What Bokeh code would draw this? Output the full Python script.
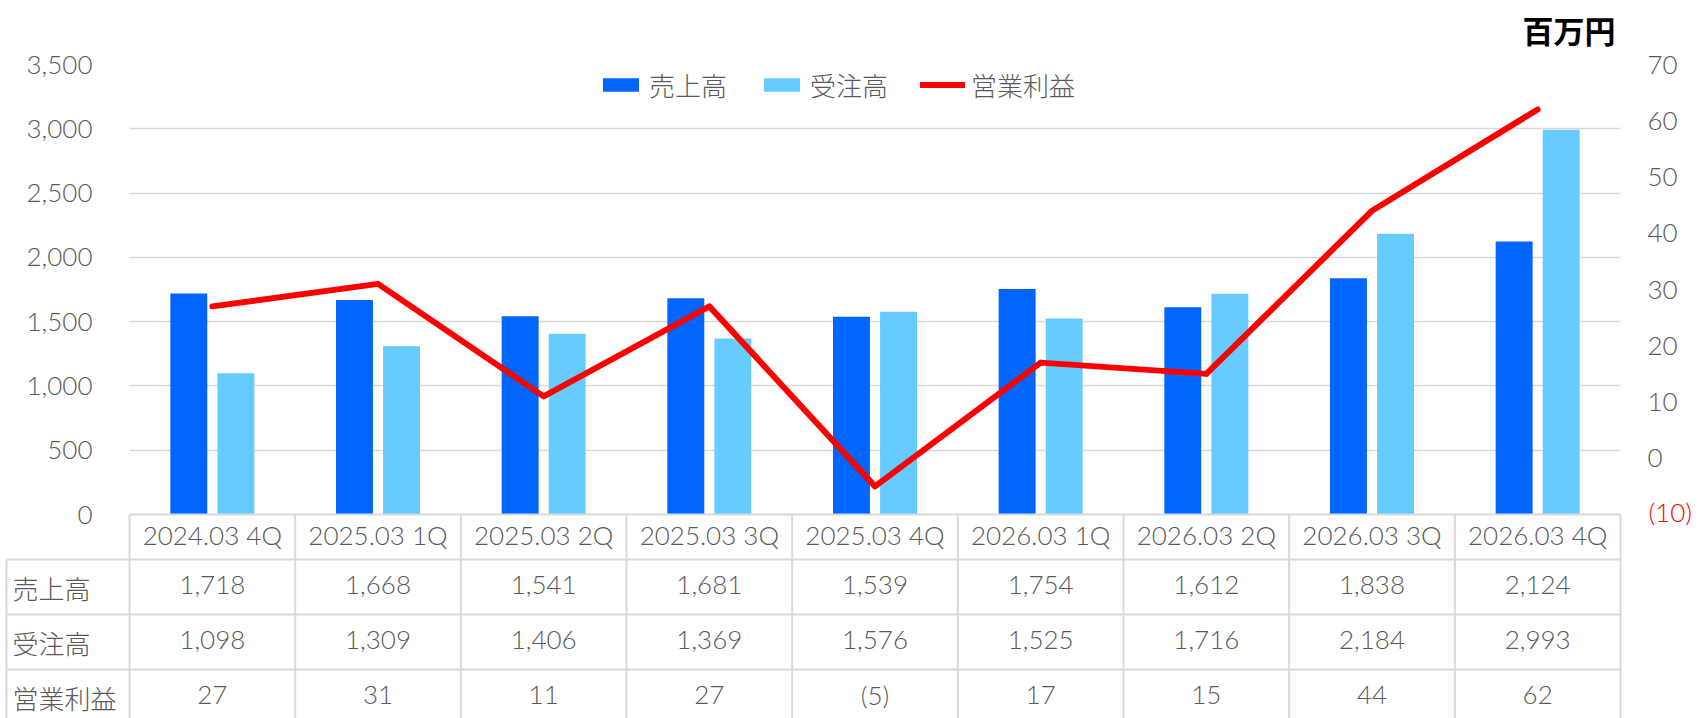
from bokeh.plotting import figure
from bokeh.models import (Range1d, LinearAxis, FixedTicker, ColumnDataSource, Legend,
                          LegendItem, NumeralTickFormatter)
from bokeh.transform import dodge
from bokeh.core.properties import value
from bokeh.embed import file_html
from bokeh.resources import INLINE

# ---------------- data ----------------
categories = ["2024.03 4Q", "2025.03 1Q", "2025.03 2Q", "2025.03 3Q", "2025.03 4Q",
              "2026.03 1Q", "2026.03 2Q", "2026.03 3Q", "2026.03 4Q"]
sales = [1718, 1668, 1541, 1681, 1539, 1754, 1612, 1838, 2124]      # 売上高
orders = [1098, 1309, 1406, 1369, 1576, 1525, 1716, 2184, 2993]     # 受注高
profit = [27, 31, 11, 27, -5, 17, 15, 44, 62]                       # 営業利益
row_names = ["売上高", "受注高", "営業利益"]
left_ticks = [0, 500, 1000, 1500, 2000, 2500, 3000, 3500]
right_ticks = [0, 10, 20, 30, 40, 50, 60, 70]
right_neg_tick = -10
unit_label = "百万円"

# ---------------- style / layout ----------------
FONT = "Lato Light, Noto Sans CJK JP Light, Noto Sans CJK JP"
CJK_FONT = "Noto Sans CJK JP Light, Noto Sans CJK JP"
BOLD_FONT = "Noto Sans CJK JP, Noto Sans"
GRAY = "#595959"
LINE = "#D9D9D9"
C_SALES, C_ORDERS, C_PROFIT = "#0066FF", "#66CCFF", "#FF0000"

W, H = 1700, 718
B_LEFT, B_TOP = 129, 64
FRAME_W = 1491
B_RIGHT = W - B_LEFT - FRAME_W
FRAME_H = H - B_TOP
CHART_H = 450                      # height of the bar area
BELOW = FRAME_H - CHART_H          # table area inside the frame
n = len(categories)
PX = FRAME_W / n                   # px per category
PAGE_L = B_LEFT                    # page x of frame left
PAGE_BASE = B_TOP + CHART_H        # page y of zero line


def xpage(px):
    return -0.5 + (px - PAGE_L) / PX


left_max = left_ticks[-1]
r_min, r_max = right_neg_tick, right_ticks[-1]
y_left = Range1d(-left_max * BELOW / CHART_H, left_max)
y_right = Range1d(r_min - (r_max - r_min) * BELOW / CHART_H, r_max)
y_tbl = Range1d(BELOW, -CHART_H)   # px below the zero line

p = figure(width=W, height=H, x_range=Range1d(-0.5, n - 0.5), y_range=y_left,
           output_backend="svg", toolbar_location=None, x_axis_location=None,
           min_border_left=B_LEFT, min_border_right=B_RIGHT, min_border_top=B_TOP,
           min_border_bottom=0)
p.extra_y_ranges = {"right": y_right, "tbl": y_tbl}
p.outline_line_color = None
p.background_fill_color = "white"
p.border_fill_color = "white"


def style_axis(ax, standoff):
    ax.axis_line_color = None
    ax.major_tick_line_color = None
    ax.minor_tick_line_color = None
    ax.major_tick_out = 0
    ax.major_tick_in = 0
    ax.major_label_standoff = standoff
    ax.major_label_text_font = FONT
    ax.major_label_text_font_size = "26px"
    ax.major_label_text_color = GRAY


ly = p.yaxis[0]
ly.ticker = FixedTicker(ticks=left_ticks)
ly.formatter = NumeralTickFormatter(format="0,0")
style_axis(ly, 37)

ry = LinearAxis(y_range_name="right", ticker=FixedTicker(ticks=right_ticks))
style_axis(ry, 27)
p.add_layout(ry, "right")

p.ygrid.ticker = FixedTicker(ticks=left_ticks[1:])
p.ygrid.grid_line_color = LINE
p.ygrid.grid_line_width = 1.5
p.xgrid.grid_line_color = None

# bars & line
src = ColumnDataSource(dict(x=list(range(n)), sales=sales, orders=orders, profit=profit))
r1 = p.vbar(x=dodge("x", -0.142, range=p.x_range), top="sales", width=0.223,
            fill_color=C_SALES, line_color=None, source=src)
r2 = p.vbar(x=dodge("x", 0.142, range=p.x_range), top="orders", width=0.223,
            fill_color=C_ORDERS, line_color=None, source=src)
r3 = p.line("x", "profit", y_range_name="right", line_color=C_PROFIT, line_width=6,
            line_join="round", line_cap="round", source=src)

# ---------------- table ----------------
HDR = 45
ROW = 55
xL = xpage(6)


def fmt(v):
    return "({:,})".format(-v) if v < 0 else "{:,}".format(v)


cx, cy, ct = [], [], []
for i, c in enumerate(categories):
    cx.append(i); cy.append(HDR / 2); ct.append(c)
for r, series in enumerate([sales, orders, profit]):
    for i, v in enumerate(series):
        cx.append(i); cy.append(HDR + ROW * r + ROW / 2); ct.append(fmt(v))
cells = ColumnDataSource(dict(x=cx, y=cy, text=ct))
p.text(x="x", y="y", text="text", y_range_name="tbl", source=cells,
       text_font=value(FONT), text_font_size="26px", text_color=GRAY,
       text_align="center", text_baseline="middle", y_offset=-2)

x0, x1, y0, y1 = [], [], [], []
x0.append(-0.5); x1.append(n - 0.5); y0.append(0); y1.append(0)
for r in range(len(row_names)):
    yy = HDR + ROW * r
    x0.append(xL); x1.append(n - 0.5); y0.append(yy); y1.append(yy)
for k in range(n + 1):
    x0.append(-0.5 + k); x1.append(-0.5 + k); y0.append(0); y1.append(HDR + ROW * 3)
x0.append(xL); x1.append(xL); y0.append(HDR); y1.append(HDR + ROW * 3)
segs = ColumnDataSource(dict(x0=x0, x1=x1, y0=y0, y1=y1))
p.segment(x0="x0", y0="y0", x1="x1", y1="y1", y_range_name="tbl", source=segs,
          line_color=LINE, line_width=2, level="overlay")

rows_src = ColumnDataSource(dict(x=[xpage(12)] * len(row_names),
                                 y=[HDR + ROW * r + ROW / 2 for r in range(len(row_names))],
                                 text=row_names))
p.text(x="x", y="y", text="text", source=rows_src, y_range_name="tbl", level="overlay",
       text_font=value(CJK_FONT), text_font_size="26px", text_color=GRAY,
       text_align="left", text_baseline="middle")

# ---------------- legend & labels ----------------
legend = Legend(items=[LegendItem(label=value(row_names[0]), renderers=[r1]),
                       LegendItem(label=value(row_names[1]), renderers=[r2]),
                       LegendItem(label=value(row_names[2]), renderers=[r3])],
                orientation="horizontal", location=(598 - PAGE_L, H - 103),
                glyph_width=45, glyph_height=17, label_standoff=6, spacing=32,
                padding=0, margin=0, border_line_color=None, background_fill_alpha=0,
                label_text_font=CJK_FONT, label_text_font_size="26px",
                label_text_color=GRAY)
p.add_layout(legend)

unit_src = ColumnDataSource(dict(x=[xpage(1615)], y=[29 - PAGE_BASE], text=[unit_label]))
p.text(x="x", y="y", text="text", source=unit_src, y_range_name="tbl", level="overlay",
       text_font=value(BOLD_FONT), text_font_size="31px", text_font_style="bold",
       text_color="black", text_align="right", text_baseline="middle")

neg_src = ColumnDataSource(dict(x=[xpage(1648)], y=[right_neg_tick], text=[fmt(right_neg_tick)]))
p.text(x="x", y="y", text="text", source=neg_src, y_range_name="right", level="overlay",
       text_font=value(FONT), text_font_size="26px", text_color=C_PROFIT,
       text_align="left", text_baseline="middle", y_offset=-3)

open("out.html", "w").write(file_html(p, INLINE))
